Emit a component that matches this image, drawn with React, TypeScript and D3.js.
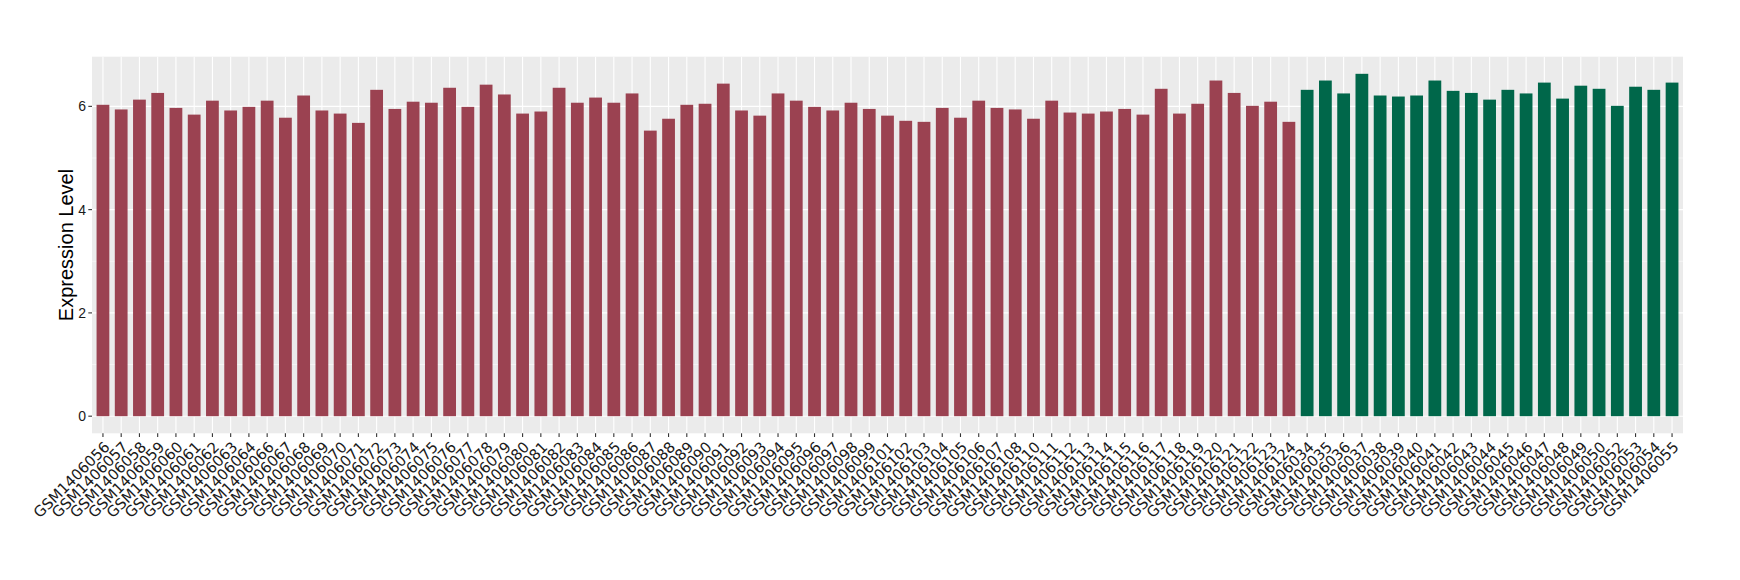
import React from "react";
import * as d3 from "d3";

const groupASamples = [
  "GSM1406056","GSM1406057","GSM1406058","GSM1406059","GSM1406060","GSM1406061","GSM1406062","GSM1406063","GSM1406064",
  "GSM1406066","GSM1406067","GSM1406068","GSM1406069","GSM1406070","GSM1406071","GSM1406072","GSM1406073","GSM1406074",
  "GSM1406075","GSM1406076","GSM1406077","GSM1406078","GSM1406079","GSM1406080","GSM1406081","GSM1406082","GSM1406083",
  "GSM1406084","GSM1406085","GSM1406086","GSM1406087","GSM1406088","GSM1406089","GSM1406090","GSM1406091","GSM1406092",
  "GSM1406093","GSM1406094","GSM1406095","GSM1406096","GSM1406097","GSM1406098","GSM1406099","GSM1406101","GSM1406102",
  "GSM1406103","GSM1406104","GSM1406105","GSM1406106","GSM1406107","GSM1406108","GSM1406110","GSM1406111","GSM1406112",
  "GSM1406113","GSM1406114","GSM1406115","GSM1406116","GSM1406117","GSM1406118","GSM1406119","GSM1406120","GSM1406121",
  "GSM1406122","GSM1406123","GSM1406124"
];
const groupAValues = [
  6.03,5.94,6.13,6.26,5.97,5.84,6.11,5.92,5.99,
  6.11,5.78,6.21,5.92,5.86,5.68,6.32,5.95,6.09,
  6.07,6.36,5.99,6.42,6.23,5.86,5.90,6.36,6.07,
  6.17,6.07,6.25,5.53,5.76,6.03,6.05,6.44,5.92,
  5.82,6.25,6.11,5.99,5.92,6.07,5.95,5.82,5.72,
  5.70,5.97,5.78,6.11,5.97,5.94,5.76,6.11,5.88,
  5.86,5.90,5.95,5.84,6.34,5.86,6.05,6.50,6.26,
  6.01,6.09,5.70
];
const groupBSamples = [
  "GSM1406034","GSM1406035","GSM1406036","GSM1406037","GSM1406038","GSM1406039","GSM1406040","GSM1406041","GSM1406042",
  "GSM1406043","GSM1406044","GSM1406045","GSM1406046","GSM1406047","GSM1406048","GSM1406049","GSM1406050","GSM1406052",
  "GSM1406053","GSM1406054","GSM1406055"
];
const groupBValues = [
  6.32,6.50,6.25,6.63,6.21,6.19,6.21,6.50,6.30,
  6.26,6.13,6.32,6.25,6.46,6.15,6.40,6.34,6.01,
  6.38,6.32,6.46
];
const yTicks = [0, 2, 4, 6];
const yMinor = [1, 3, 5];
const yTitle = "Expression Level";

const colorA = "#9B4251";
const colorB = "#00674A";

export default function App() {
  const W = 1740, H = 580;
  const left = 92, right = 1683, top = 56.7, bottom = 433.3;
  const data = [
    ...groupASamples.map((s, i) => ({ s, v: groupAValues[i], c: colorA })),
    ...groupBSamples.map((s, i) => ({ s, v: groupBValues[i], c: colorB })),
  ];
  const n = data.length;
  const unit = (right - left) / (n - 1 + 1.2);
  const x = d3.scalePoint<string>().domain(data.map(d => d.s)).range([left + 0.6 * unit, right - 0.6 * unit]);
  const maxV = d3.max(data, d => d.v) as number;
  const y = d3.scaleLinear().domain([-0.05 * maxV, maxV * 1.05]).range([bottom, top]);
  const bw = unit * 0.7;
  const font = "'Liberation Sans', Arial, sans-serif";
  const xFont = "'DejaVu Sans', sans-serif";

  return (
    <svg width={W} height={H} style={{ position: "absolute", left: 0, top: 0, background: "#fff" }}>
      <rect x={left} y={top} width={right - left} height={bottom - top} fill="#EBEBEB" />
      {yMinor.map(t => (
        <line key={"m" + t} x1={left} x2={right} y1={y(t)} y2={y(t)} stroke="#fff" strokeWidth={0.55} />
      ))}
      {yTicks.map(t => (
        <line key={"g" + t} x1={left} x2={right} y1={y(t)} y2={y(t)} stroke="#fff" strokeWidth={1.1} />
      ))}
      {data.map(d => (
        <line key={"v" + d.s} x1={x(d.s)} x2={x(d.s)} y1={top} y2={bottom} stroke="#fff" strokeWidth={1.1} />
      ))}
      {data.map(d => (
        <rect key={"b" + d.s} x={(x(d.s) as number) - bw / 2} width={bw} y={y(d.v)} height={y(0) - y(d.v)} fill={d.c} />
      ))}
      {yTicks.map(t => (
        <g key={"t" + t}>
          <line x1={left - 3.7} x2={left} y1={y(t)} y2={y(t)} stroke="#333" strokeWidth={1.1} />
          <text x={left - 6} y={y(t)} dy="0.36em" textAnchor="end" fontFamily={font} fontSize={14} fill="#1a1a1a">{t}</text>
        </g>
      ))}
      {data.map(d => {
        const px = x(d.s) as number;
        return (
          <g key={"x" + d.s}>
            <line x1={px} x2={px} y1={bottom} y2={bottom + 3.7} stroke="#333" strokeWidth={1.1} />
            <text
              transform={`translate(${px},${bottom + 7}) rotate(-45)`}
              textAnchor="end"
              dy="0.73em"
              fontFamily={xFont}
              fontSize={14.9}
              fill="#1a1a1a"
            >{d.s}</text>
          </g>
        );
      })}
      <text
        transform={`translate(66,${(top + bottom) / 2}) rotate(-90)`}
        textAnchor="middle"
        dy="0.36em"
        fontFamily={font}
        fontSize={20}
        fill="#000"
      >{yTitle}</text>
    </svg>
  );
}
